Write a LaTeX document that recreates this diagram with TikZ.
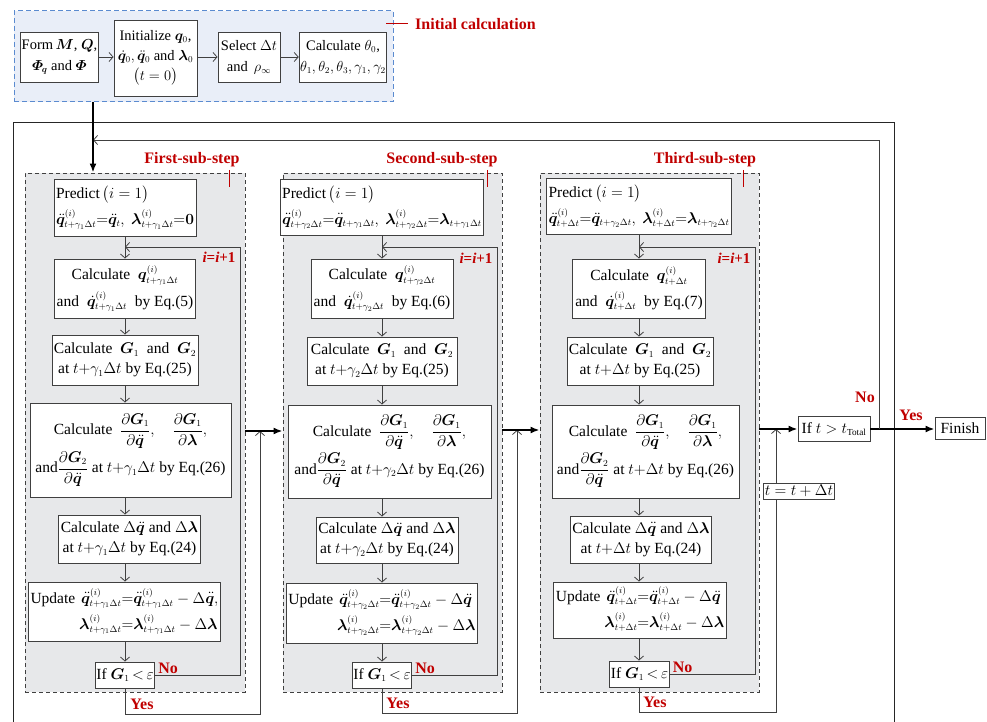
\RequirePackage{fix-cm}
\documentclass[tikz,border=0pt]{standalone}
\usepackage{amsmath}
\usepackage{bm}
\usepackage[no-math]{fontspec}
\setmainfont{Liberation Serif}
\usetikzlibrary{arrows.meta,calc}
\DeclareMathSizes{15.5}{15.5}{9.2}{7}
\DeclareMathSizes{14.5}{14.5}{9}{7}
\definecolor{myred}{HTML}{C00000}
\definecolor{blueline}{HTML}{5B8BD0}
\definecolor{bluefill}{HTML}{E9EEF8}
\definecolor{grayfill}{HTML}{E7E8EA}
\definecolor{lineg}{HTML}{404040}
\newcommand\vq{\bm{q}}
\newcommand\ddq{\ddot{\bm q}}
\newcommand\dq{\dot{\bm q}}
\newcommand\vl{\bm{\lambda}}
\newcommand\vG{\bm{G}}
\newcommand\tga{t+\gamma_1\Delta t}
\newcommand\tgb{t+\gamma_2\Delta t}
\newcommand\tgc{t+\Delta t}
\newcommand\eqs{\mathord{=}}
\tikzset{
  box/.style={draw=lineg, line width=0.9pt, fill=white, inner sep=2pt, align=center,
    font=\fontsize{15.5}{18}\selectfont},
  topbox/.style={box, font=\fontsize{14.5}{17}\selectfont, inner sep=1pt},
  substep/.style={draw=lineg, dash pattern=on 4pt off 3pt, line width=0.9pt, fill=grayfill, inner sep=0pt},
  inibox/.style={draw=blueline, dash pattern=on 5pt off 3pt, line width=1pt, fill=bluefill, inner sep=0pt},
  conn/.style={draw=lineg, line width=0.8pt, -{Straight Barb[length=4pt,width=9pt]}},
  frameline/.style={draw=black!85, line width=1pt},
  thickarr/.style={draw=black, line width=1.8pt, -{Latex[length=9pt,width=7pt]}},
  redlab/.style={text=myred, inner sep=0pt, font=\fontsize{16}{19}\selectfont\bfseries},
  redtick/.style={draw=myred, line width=1pt}
}
\begin{document}
\begin{tikzpicture}[x=1pt,y=-1pt]
\useasboundingbox (0,0) rectangle (987,722);

% ---------- initial calculation ----------
\node[inibox, minimum width=379pt, minimum height=91pt] (ini) at (203.5,56.5) {};
\node[topbox, minimum width=75pt, minimum height=50pt] (form) at (59.5,57)
  {Form\,$\bm M$, $\bm Q$,\\[4pt] $\bm\varPhi_{\!\bm q}$ and $\bm\varPhi$};
\node[topbox, minimum width=83pt, minimum height=76pt] (init) at (155.5,58)
  {Initialize $\vq_0$,\\[3pt] $\dq_0,\ddq_0$ and $\vl_0$\\[3pt] $\bigl(t=0\bigr)$};
\node[topbox, minimum width=62pt, minimum height=50pt] (sel) at (249,57)
  {Select $\Delta t$\\[4pt] and \,$\rho_\infty$};
\node[topbox, minimum width=82pt, minimum height=50pt] (calc0) at (343,57)
  {Calculate $\theta_0$,\\[4pt] $\theta_1,\theta_2,\theta_3,\gamma_1,\gamma_2$};
\draw[conn] (form.east) -- (form.east -| init.west);
\draw[conn] (sel.west -| init.east) -- (sel.west);
\draw[conn] (sel.east) -- (sel.east -| calc0.west);
\draw[redtick] (386,24) -- (408,24);
\node[redlab, anchor=west] (initlab) at (415,24) {Initial calculation};

% ---------- outer frame ----------
\draw[frameline] (13,722) -- (13,123) -- (894,123) -- (894,722);

% ---------- sub-step containers ----------
\node[substep, minimum width=220pt, minimum height=519pt] (s1) at (135,432.5) {};
\node[substep, minimum width=219pt, minimum height=519pt] (s2) at (392.5,432.5) {};
\node[substep, minimum width=219pt, minimum height=519pt] (s3) at (649.5,432.5) {};
\node[redlab] (l1) at (192,160) {First-sub-step};
\node[redlab] (l2) at (442,160) {Second-sub-step};
\node[redlab] (l3) at (705,160) {Third-sub-step};
\draw[redtick] (229,170) -- (229,187);
\draw[redtick] (487,170) -- (487,187);
\draw[redtick] (743,170) -- (743,187);

% ---------- first sub-step ----------
\node[box, align=left, minimum width=133pt, minimum height=57pt] (p1) at (125,207.5)
  {Predict$\,\bigl(i=1\bigr)$\\[5pt] $\ddq^{(i)}_{\tga}\eqs\ddq_t,\ \vl^{(i)}_{\tga}\eqs\bm 0$};
\node[box, minimum width=138pt, minimum height=59pt] (q1) at (125,288.5)
  {Calculate \ $\vq^{(i)}_{\tga}$\\[6pt] and \ $\dq^{(i)}_{\tga}$ \ by Eq.(5)};
\node[box, minimum width=144pt, minimum height=50pt] (g1) at (125,360)
  {Calculate \ $\vG_1$ \ and \ $\vG_2$\\[2pt] at $t{+}\gamma_1\Delta t$ by Eq.(25)};
\node[box, minimum width=201pt, minimum height=94pt] (d1) at (130.5,450)
  {Calculate \ $\dfrac{\partial\vG_1}{\partial\ddq},\quad\dfrac{\partial\vG_1}{\partial\vl},$\\[2pt]
   and$\dfrac{\partial\vG_2}{\partial\ddq}$\ at $t{+}\gamma_1\Delta t$ by Eq.(26)};
\node[box, minimum width=139pt, minimum height=48pt] (dl1) at (129.5,539)
  {Calculate $\Delta\ddq$ and $\Delta\vl$\\[2pt] at $t{+}\gamma_1\Delta t$ by Eq.(24)};
\node[box, minimum width=181pt, minimum height=59pt] (u1) at (124.5,611.5)
  {\begin{tabular}{@{}l@{\ }r@{}l@{}}
   Update & $\ddq^{(i)}_{\tga}$ & $\eqs\ddq^{(i)}_{\tga}-\Delta\ddq,$\\[6pt]
   & $\vl^{(i)}_{\tga}$ & $\eqs\vl^{(i)}_{\tga}-\Delta\vl$
   \end{tabular}};
\node[box, inner sep=1pt, minimum width=52pt, minimum height=26pt] (if1) at (125,675) {If $\vG_1\,{<}\,\varepsilon$};

% ---------- second sub-step ----------
\node[box, align=left, minimum width=180pt, minimum height=56pt] (p2) at (382,207)
  {Predict$\,\bigl(i=1\bigr)$\\[5pt] $\ddq^{(i)}_{\tgb}\eqs\ddq_{\tga},\ \vl^{(i)}_{\tgb}\eqs\vl_{\tga}$};
\node[box, minimum width=142pt, minimum height=59pt] (q2) at (382,288.5)
  {Calculate \ $\vq^{(i)}_{\tgb}$\\[6pt] and \ $\dq^{(i)}_{\tgb}$ \ by Eq.(6)};
\node[box, minimum width=150pt, minimum height=48pt] (g2) at (382,361)
  {Calculate \ $\vG_1$ \ and \ $\vG_2$\\[2pt] at $t{+}\gamma_2\Delta t$ by Eq.(25)};
\node[box, minimum width=203pt, minimum height=93pt] (d2) at (389.5,451.5)
  {Calculate \ $\dfrac{\partial\vG_1}{\partial\ddq},\quad\dfrac{\partial\vG_1}{\partial\vl},$\\[2pt]
   and$\dfrac{\partial\vG_2}{\partial\ddq}$\ at $t{+}\gamma_2\Delta t$ by Eq.(26)};
\node[box, minimum width=142pt, minimum height=46pt] (dl2) at (387,540)
  {Calculate $\Delta\ddq$ and $\Delta\vl$\\[2pt] at $t{+}\gamma_2\Delta t$ by Eq.(24)};
\node[box, minimum width=180pt, minimum height=60pt] (u2) at (382,613)
  {\begin{tabular}{@{}l@{\ }r@{}l@{}}
   Update & $\ddq^{(i)}_{\tgb}$ & $\eqs\ddq^{(i)}_{\tgb}-\Delta\ddq$\\[6pt]
   & $\vl^{(i)}_{\tgb}$ & $\eqs\vl^{(i)}_{\tgb}-\Delta\vl$
   \end{tabular}};
\node[box, inner sep=1pt, minimum width=50pt, minimum height=26pt] (if2) at (382,675) {If $\vG_1\,{<}\,\varepsilon$};

% ---------- third sub-step ----------
\node[box, align=left, minimum width=166pt, minimum height=56pt] (p3) at (639,206)
  {Predict$\,\bigl(i=1\bigr)$\\[5pt] $\ddq^{(i)}_{\tgc}\eqs\ddq_{\tgb},\ \vl^{(i)}_{\tgc}\eqs\vl_{\tgb}$};
\node[box, minimum width=133pt, minimum height=59pt] (q3) at (639,288.5)
  {Calculate \ $\vq^{(i)}_{\tgc}$\\[6pt] and \ $\dq^{(i)}_{\tgc}$ \ by Eq.(7)};
\node[box, minimum width=146pt, minimum height=48pt] (g3) at (640,361)
  {Calculate \ $\vG_1$ \ and \ $\vG_2$\\[2pt] at $t{+}\Delta t$ by Eq.(25)};
\node[box, minimum width=187pt, minimum height=93pt] (d3) at (645.5,451.5)
  {Calculate \ $\dfrac{\partial\vG_1}{\partial\ddq},\quad\dfrac{\partial\vG_1}{\partial\vl},$\\[2pt]
   and$\dfrac{\partial\vG_2}{\partial\ddq}$\ at $t{+}\Delta t$ by Eq.(26)};
\node[box, minimum width=136pt, minimum height=47pt] (dl3) at (641,539.5)
  {Calculate $\Delta\ddq$ and $\Delta\vl$\\[2pt] at $t{+}\Delta t$ by Eq.(24)};
\node[box, minimum width=164pt, minimum height=56pt] (u3) at (640,610)
  {\begin{tabular}{@{}l@{\ }r@{}l@{}}
   Update & $\ddq^{(i)}_{\tgc}$ & $\eqs\ddq^{(i)}_{\tgc}-\Delta\ddq$\\[6pt]
   & $\vl^{(i)}_{\tgc}$ & $\eqs\vl^{(i)}_{\tgc}-\Delta\vl$
   \end{tabular}};
\node[box, inner sep=1pt, minimum width=51pt, minimum height=26pt] (if3) at (639.5,674) {If $\vG_1\,{<}\,\varepsilon$};

% ---------- vertical connectors ----------
\foreach \k in {1,2,3}{
  \draw[conn] (q\k.north |- p\k.south) -- (q\k.north);
  \draw[conn] (q\k.south) -- (q\k.south |- g\k.north);
  \draw[conn] (q\k.south |- g\k.south) -- (q\k.south |- d\k.north);
  \draw[conn] (q\k.south |- d\k.south) -- (q\k.south |- dl\k.north);
  \draw[conn] (q\k.south |- dl\k.south) -- (q\k.south |- u\k.north);
  \draw[conn] (q\k.south |- u\k.south) -- (q\k.south |- if\k.north);
}

% ---------- inner loops (No -> i=i+1) ----------
\coordinate (r1) at (240,247);  \coordinate (j1) at (125,247);
\coordinate (r2) at (497,247);  \coordinate (j2) at (382,247);
\coordinate (r3) at (755,247);  \coordinate (j3) at (639,247);
\foreach \k in {1,2,3}{
  \draw[conn] (if\k.east) -| (r\k) -- (j\k);
}
\node[redlab, font=\fontsize{15}{18}\selectfont\bfseries] (ii1) at (219,257) {\textit{i}=\textit{i}+1};
\node[redlab, font=\fontsize{15}{18}\selectfont\bfseries] (ii2) at (476,258) {\textit{i}=\textit{i}+1};
\node[redlab, font=\fontsize{15}{18}\selectfont\bfseries] (ii3) at (734,258) {\textit{i}=\textit{i}+1};
\node[redlab, anchor=south west] (no1) at ([xshift=3pt,yshift=1pt]if1.east) {No};
\node[redlab, anchor=south west] (no2) at ([xshift=3pt,yshift=1pt]if2.east) {No};
\node[redlab, anchor=south west] (no3) at ([xshift=3pt,yshift=1pt]if3.east) {No};

% ---------- Yes exits ----------
\coordinate (yb1) at (260,714); \coordinate (ya1) at (260,431);
\coordinate (yb2) at (517,713); \coordinate (ya2) at (517,430);
\coordinate (yb3) at (776,712); \coordinate (ya3) at (776,429);
\foreach \k in {1,2,3}{
  \draw[conn] (if\k.south) |- (yb\k) -- (ya\k);
}
\node[redlab] (ye1) at (142,704) {Yes};
\node[redlab] (ye2) at (398,703) {Yes};
\node[redlab] (ye3) at (655,702) {Yes};

% ---------- time loop ----------
\node[box, inner sep=1pt, minimum width=72pt, minimum height=25pt] (ift) at (834,429) {If $t>t_{\text{Total}}$};
\node[box, inner sep=1pt, minimum width=50pt, minimum height=22pt] (fin) at (960,428) {Finish};
\node[box, minimum width=64pt, minimum height=16pt, inner sep=1pt] (tb) at (799,491) {$t=t+\Delta t$};

\draw[thickarr] (s1.east |- ya1) -- (s2.west |- ya1);
\draw[thickarr] (s2.east |- ya2) -- (s3.west |- ya2);
\draw[thickarr] (s3.east |- ift.west) -- (ift.west);
\draw[thickarr] (ift.east) -- (ift.east -| fin.west);

\coordinate (nr) at (879,140);
\coordinate (nj) at (93,140);
\draw[conn] (nr |- ift.east) -- (nr) -- (nj);
\node[redlab] (nob) at (865,397) {No};
\node[redlab] (yeb) at (911,415) {Yes};

\coordinate (st) at (93,102);
\draw[thickarr] (st) -- (st |- s1.north);
\end{tikzpicture}
\end{document}
